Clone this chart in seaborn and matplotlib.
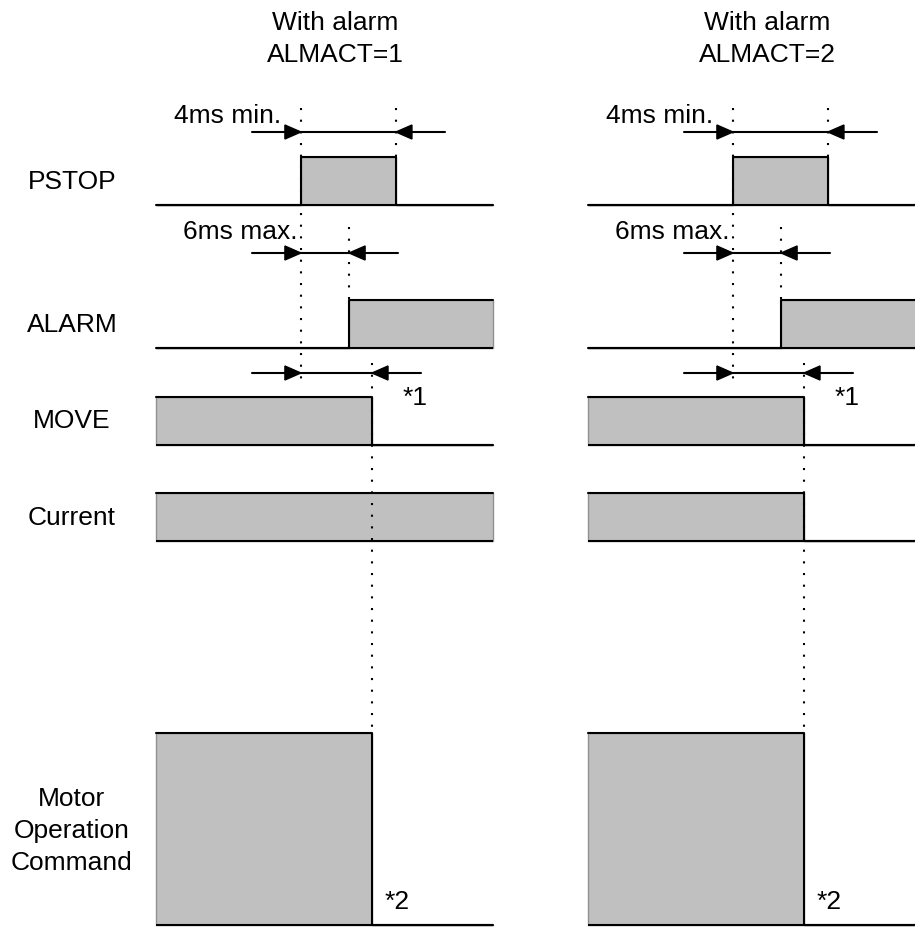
import numpy as np
import pandas as pd
import matplotlib
matplotlib.use("Agg")
import matplotlib.pyplot as plt
import seaborn as sns

# ---------------- data (time in arbitrary units, 0..100 per panel) ----------------
panel_titles = ["With alarm\nALMACT=1", "With alarm\nALMACT=2"]
signal_names = ["PSTOP", "ALARM", "MOVE", "Current", "Motor\nOperation\nCommand"]

t_start = 0.0
t_end = 100.0
t_pstop_on = 43.0
t_pstop_off = 71.2
t_alarm_on = 57.3
t_move_off = 64.1

pstop_edges = [t_start, t_pstop_on, t_pstop_off, t_end]
pstop_levels = [0, 1, 0]
alarm_edges = [t_start, t_alarm_on, t_end]
alarm_levels = [0, 1]
move_edges = [t_start, t_move_off, t_end]
move_levels = [1, 0]
current_edges_almact1 = [t_start, t_end]
current_levels_almact1 = [1]
current_edges_almact2 = [t_start, t_move_off, t_end]
current_levels_almact2 = [1, 0]
motor_edges = [t_start, t_move_off, t_end]
motor_levels = [1, 0]

dim_labels = ["4ms min.", "6ms max."]
note_labels = ["*1", "*2"]

# ---------------- layout (pixels) ----------------
W, H = 915, 927
row_base = [205, 348, 445, 541, 925]
row_high = [157, 300, 397, 493, 733]
label_baseline = [189, 332, 428, 525, 870]   # baseline of last line
panel_x0 = [156, 588]
panel_w = 337
px_per_t = panel_w / (t_end - t_start)

sns.set_theme(style="white")
plt.rcParams["font.family"] = ["Liberation Sans", "DejaVu Sans"]
plt.rcParams["text.color"] = "black"
FS = 19
LW = 1.5
LS = 1.42
GRAY = "#c0c0c0"
DOTS = (0, (1, 4.6))

fig = plt.figure(figsize=(W / 100, H / 100), dpi=100)


def t_px(px):
    return px / px_per_t


def draw_wave(ax, edges, levels, row):
    base, high = row_base[row], row_high[row]
    lv = list(levels) + [levels[-1]]
    y = [base - l * (base - high) for l in lv]
    df = pd.DataFrame({"t": edges, "y": y})
    ax.fill_between(df["t"], base, df["y"], step="post", facecolor=GRAY,
                    edgecolor="#909090", lw=1.0, zorder=1, clip_on=False)
    ax.plot([edges[0], edges[-1]], [base, base], color="black", lw=LW,
            zorder=3, clip_on=False, solid_capstyle="butt")
    sns.lineplot(data=df, x="t", y="y", drawstyle="steps-post", color="black",
                 lw=LW, estimator=None, sort=False, ax=ax, zorder=3,
                 clip_on=False)


def vdots(ax, t, y0, y1):
    ax.plot([t, t], [y0, y1], color="black", lw=1.5, linestyle=DOTS,
            zorder=4, clip_on=False)


def dim_arrow(ax, y, t0, t1):
    ext = t_px(49)
    hl = t_px(16)
    hw = 7
    ax.plot([t0 - ext, t1 + ext], [y, y], color="black", lw=LW, zorder=5,
            clip_on=False)
    ax.fill([t0, t0 - hl, t0 - hl], [y, y - hw, y + hw], color="black",
            zorder=5, clip_on=False)
    ax.fill([t1, t1 + hl, t1 + hl], [y, y - hw, y + hw], color="black",
            zorder=5, clip_on=False)


current_sets = [(current_edges_almact1, current_levels_almact1),
                (current_edges_almact2, current_levels_almact2)]

axes = []
for p in range(2):
    ax = fig.add_axes([panel_x0[p] / W, 0, panel_w / W, 1])
    ax.set_xlim(t_start, t_end)
    ax.set_ylim(H, 0)
    ax.axis("off")
    axes.append(ax)

    draw_wave(ax, pstop_edges, pstop_levels, 0)
    draw_wave(ax, alarm_edges, alarm_levels, 1)
    draw_wave(ax, move_edges, move_levels, 2)
    draw_wave(ax, current_sets[p][0], current_sets[p][1], 3)
    draw_wave(ax, motor_edges, motor_levels, 4)

    # guide lines
    vdots(ax, t_pstop_on, 108, 383)
    vdots(ax, t_pstop_off, 108, row_high[0])
    vdots(ax, t_alarm_on, 227, row_high[1])
    vdots(ax, t_move_off, 363, row_high[4])

    # dimension arrows
    dim_arrow(ax, 132, t_pstop_on, t_pstop_off)
    dim_arrow(ax, 253, t_pstop_on, t_alarm_on)
    dim_arrow(ax, 373, t_pstop_on, t_move_off)

    ax.text(t_pstop_on - t_px(20), 123, dim_labels[0], ha="right",
            va="baseline", fontsize=FS, color="black", clip_on=False)
    ax.text(t_pstop_on - t_px(3), 239, dim_labels[1], ha="right",
            va="baseline", fontsize=FS, color="black", clip_on=False)
    ax.text(t_move_off + t_px(31), 405, note_labels[0], ha="left",
            va="baseline", fontsize=FS, color="black", clip_on=False)
    ax.text(t_move_off + t_px(13), 909, note_labels[1], ha="left",
            va="baseline", fontsize=FS, color="black", clip_on=False)

    ax.text(t_px(179), 62, panel_titles[p], ha="center", va="baseline",
            fontsize=FS, linespacing=LS, color="black", clip_on=False,
            multialignment="center")

# signal names on the left
ax0 = axes[0]
for i, name in enumerate(signal_names):
    ax0.text(t_px(72 - panel_x0[0]), label_baseline[i], name, ha="center",
             va="baseline", fontsize=FS, linespacing=LS, color="black",
             clip_on=False, multialignment="center")

fig.savefig("out.png", dpi=100, facecolor="white")
